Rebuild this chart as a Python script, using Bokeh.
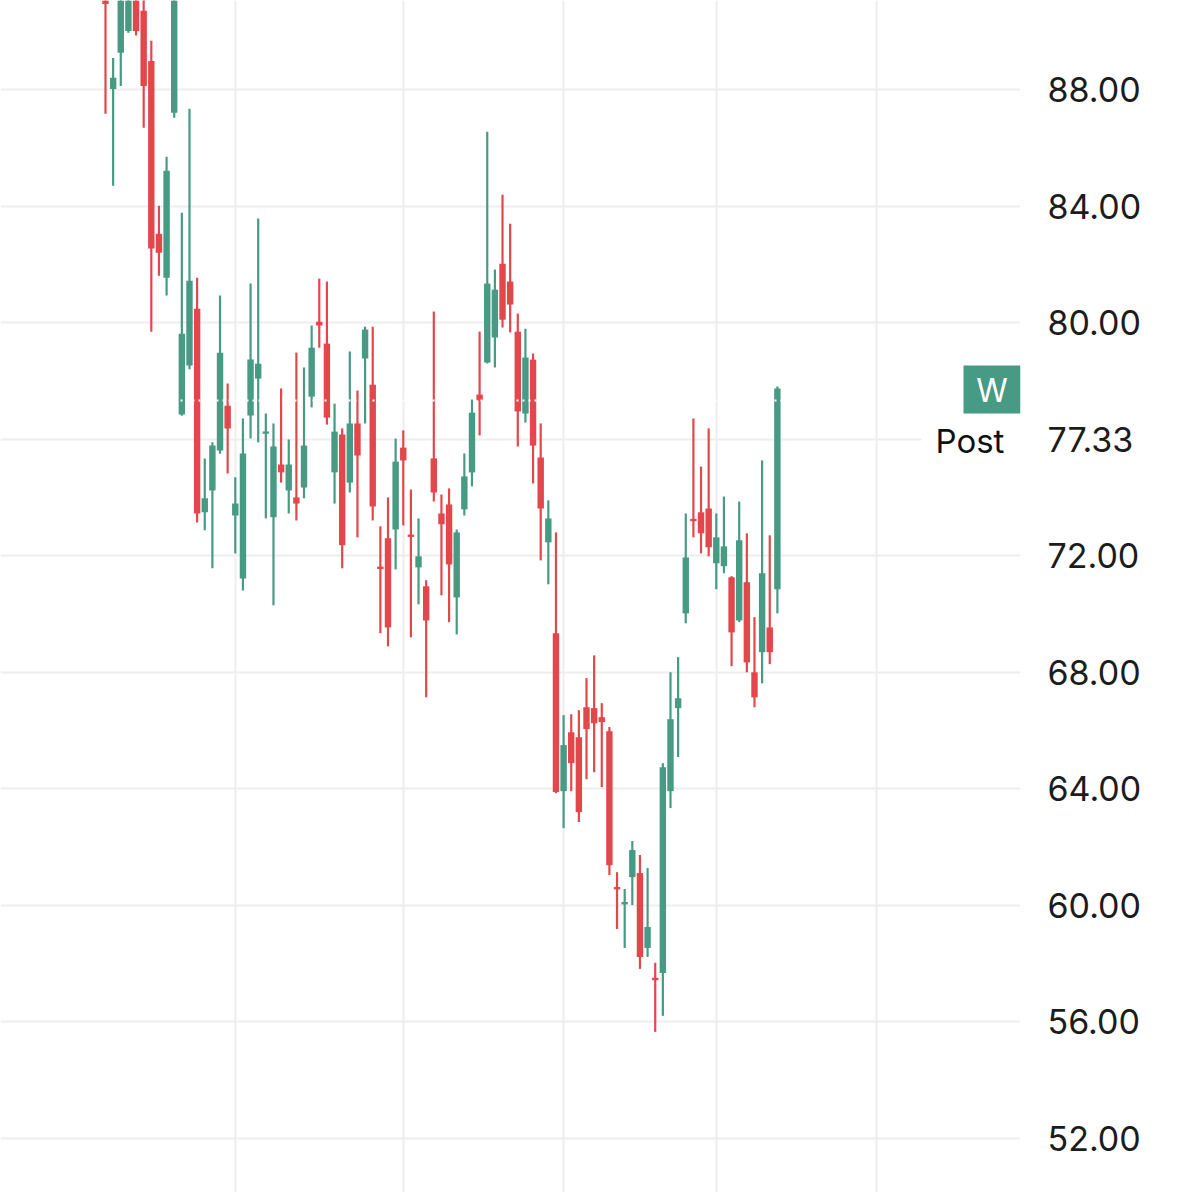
from bokeh.plotting import figure
from bokeh.models import Range1d, FixedTicker, NumeralTickFormatter
from bokeh.core.properties import value
from bokeh.embed import file_html
from bokeh.resources import INLINE

# ---- data (daily candles) ----
opens = [91.4, 88.02, 89.26, 90.01, 91.4, 90.70, 88.98, 83.05, 81.54, 87.20,
         76.85, 78.53, 80.48, 73.49, 74.24, 75.61, 77.15, 73.38, 71.22, 76.81,
         78.08, 76.20, 73.32, 75.13, 74.24, 74.00, 74.34, 77.46, 80.03, 79.28,
         74.86, 76.16, 74.51, 76.54, 78.77, 77.87, 71.62, 72.60, 72.90, 75.71,
         72.72, 71.60, 70.95, 75.34, 73.45, 73.76, 70.57, 73.59, 74.86, 77.53,
         78.63, 79.49, 82.02, 81.41, 79.69, 76.88, 78.73, 75.37, 72.46, 69.34,
         63.92, 65.94, 65.77, 66.80, 66.77, 66.46, 65.98, 60.63, 60.05, 60.97,
         61.11, 58.54, 57.50, 57.68, 63.92, 66.77, 70.02, 73.25, 73.49, 73.62,
         71.74, 71.64, 71.26, 69.78, 71.09, 68.00, 68.69, 69.54, 70.85]
highs = [91.9, 89.08, 91.9, 91.9, 91.9, 91.3, 89.67, 84.01, 85.69, 91.9,
         83.77, 87.34, 81.54, 75.34, 75.89, 80.93, 77.91, 74.69, 76.71, 81.34,
         83.57, 76.88, 76.54, 77.74, 75.99, 78.97, 78.46, 79.90, 81.51, 81.41,
         77.22, 76.37, 79.01, 77.67, 79.86, 79.86, 73.01, 74.00, 76.02, 76.30,
         74.27, 73.28, 71.16, 80.38, 74.10, 74.31, 72.90, 75.51, 77.36, 79.69,
         86.55, 81.82, 84.39, 83.39, 80.31, 79.79, 78.94, 76.54, 73.90, 72.80,
         66.53, 66.56, 66.70, 67.80, 68.58, 66.94, 66.12, 61.14, 60.56, 62.21,
         61.73, 61.28, 58.03, 64.88, 68.00, 68.52, 73.45, 76.71, 75.06, 76.37,
         73.45, 74.03, 71.30, 73.86, 72.77, 69.89, 75.27, 72.70, 77.81]
lows = [87.17, 84.70, 88.12, 89.95, 89.85, 86.69, 79.69, 81.61, 80.93, 87.03,
        76.80, 78.40, 73.14, 72.87, 71.57, 75.50, 74.82, 72.08, 70.81, 76.02,
        75.89, 73.28, 70.30, 74.51, 73.45, 73.21, 73.97, 77.09, 79.14, 76.50,
        73.79, 71.57, 74.17, 72.63, 76.54, 73.21, 69.34, 68.89, 71.53, 73.04,
        69.20, 70.33, 67.14, 73.86, 70.64, 69.72, 69.30, 73.38, 74.38, 76.13,
        78.60, 78.46, 79.83, 79.66, 75.75, 76.57, 74.48, 71.84, 71.02, 63.85,
        62.65, 63.92, 62.86, 64.33, 64.57, 64.06, 61.04, 59.19, 58.54, 60.01,
        57.82, 58.23, 55.66, 56.21, 63.34, 65.09, 69.68, 72.63, 72.08, 71.98,
        70.85, 71.40, 68.21, 69.72, 68.00, 66.80, 67.62, 68.28, 70.02]
closes = [90.93, 88.40, 91.4, 91.4, 90.01, 88.12, 82.54, 82.40, 85.21, 91.4,
          79.62, 81.44, 73.45, 73.97, 75.78, 78.97, 76.37, 73.79, 75.51, 78.73,
          78.59, 76.25, 75.75, 74.86, 75.13, 73.79, 75.78, 79.14, 79.90, 76.74,
          76.26, 72.36, 76.54, 75.44, 79.76, 73.69, 71.55, 69.54, 75.23, 75.27,
          72.65, 71.98, 69.78, 74.17, 73.08, 71.70, 72.80, 74.72, 76.91, 77.33,
          81.34, 81.13, 80.10, 80.62, 76.95, 78.80, 75.78, 73.62, 73.28, 63.89,
          65.50, 64.88, 63.20, 66.05, 66.25, 66.29, 61.38, 60.55, 60.10, 61.90,
          58.23, 59.26, 57.45, 64.74, 66.39, 67.11, 71.94, 73.20, 72.77, 72.29,
          72.63, 72.32, 69.37, 72.53, 68.34, 67.14, 71.40, 68.69, 77.74]

price_ticks = [52, 56, 60, 64, 68, 72, 76, 80, 84, 88]
month_starts = [17, 39, 60, 80, 101]     # candle index of month gridlines
last_price = 77.33
last_price_tick = 76                       # tick whose label shows the last price
series_badge = "W"
session_label = "Post"

GREEN = "#479a83"
RED = "#e2474c"
FONT = "Inter"

# ---- layout of the reference (pixels) ----
X0_PX, DX_PX = 105.0, 7.635          # candle 0 centre and candle spacing
Y_REF_PX, Y_REF_VAL, DY_PX = 89.0, 88.0, 29.139
FRAME_W, FRAME_H = 1020, 1192
RIGHT_BORDER = 165

def px_x(X):
    return (X - X0_PX) / DX_PX

def px_y(Y):
    return Y_REF_VAL - (Y - Y_REF_PX) / DY_PX

x_start = px_x(0)
x_end = x_start + FRAME_W / DX_PX
y_end = px_y(0)
y_start = y_end - FRAME_H / DY_PX

p = figure(frame_width=FRAME_W, frame_height=FRAME_H,
           x_range=Range1d(x_start, x_end), y_range=Range1d(y_start, y_end),
           y_axis_location="right", x_axis_location=None,
           toolbar_location=None, output_backend="svg",
           min_border_left=0, min_border_top=0, min_border_bottom=0,
           min_border_right=RIGHT_BORDER, outline_line_color=None,
           background_fill_color="white", border_fill_color="white")

# grids
p.ygrid.grid_line_color = "#eeeeee"
p.ygrid.grid_line_width = 2
p.xgrid.ticker = FixedTicker(ticks=month_starts)
p.xgrid.grid_line_color = "#eeeeee"
p.xgrid.grid_line_width = 2

# right price axis
ax = p.yaxis[0]
ax.ticker = FixedTicker(ticks=price_ticks)
ax.formatter = NumeralTickFormatter(format="0.00")
ax.major_label_overrides = {last_price_tick: f"{last_price:.2f}"}
ax.axis_line_color = None
ax.major_tick_line_color = None
ax.minor_tick_line_color = None
ax.major_tick_out = 0
ax.major_tick_in = 0
ax.major_label_standoff = 27
ax.major_label_text_font = FONT
ax.major_label_text_font_size = "34px"
ax.major_label_text_color = "#1c1c1c"

# candles
idx = list(range(len(opens)))
MIN_BODY = 0.08
colors, tops, bottoms = [], [], []
for o, c in zip(opens, closes):
    colors.append(GREEN if c >= o else RED)
    t, b = max(o, c), min(o, c)
    if t - b < MIN_BODY:
        m = (t + b) / 2
        t, b = m + MIN_BODY / 2, m - MIN_BODY / 2
    tops.append(t)
    bottoms.append(b)

p.segment(x0=idx, y0=lows, x1=idx, y1=highs, line_color=colors, line_width=2.2)
p.vbar(x=idx, width=0.84, top=tops, bottom=bottoms, fill_color=colors,
       line_color=None)

# dotted last-price line (white, visible over candles)
p.segment(x0=[x_start], y0=[last_price], x1=[idx[-1] + 0.5], y1=[last_price],
          line_color="white", line_width=2, line_dash="2 4")

# "Post" label with white backing over the gridline
p.rect(x=[px_x(970.5)], y=[last_price_tick], width=99, height=34,
       width_units="screen", height_units="screen",
       fill_color="white", line_color=None)
p.text(x=[px_x(935)], y=[px_y(440)], text=[session_label],
       text_font=value(FONT), text_font_size="33px", text_color="#111111",
       text_align="left", text_baseline="middle")

# series badge
p.rect(x=[px_x(991.5)], y=[px_y(389)], width=57, height=48,
       width_units="screen", height_units="screen",
       fill_color=GREEN, line_color=None)
p.text(x=[px_x(991.5)], y=[px_y(390)], text=[series_badge],
       text_font=value(FONT), text_font_size="32px",
       text_color="white", text_align="center", text_baseline="middle")

open("out.html", "w").write(file_html(p, INLINE))
